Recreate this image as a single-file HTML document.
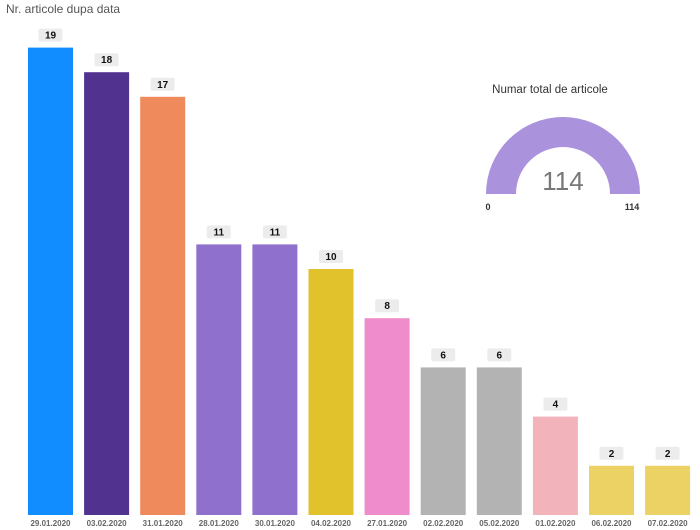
<!DOCTYPE html>
<html><head><meta charset="utf-8"><style>
body{margin:0;background:#fff;}
svg{display:block;font-family:"Liberation Sans",sans-serif;}
</style></head><body>
<svg id="chart" width="700" height="530">
<text x="6" y="13" font-size="12" fill="#555">Nr. articole dupa data</text>
<g id="bars"></g>
<g>
<text x="550" y="93" font-size="11.5" fill="#333" text-anchor="middle">Numar total de articole</text>
<path id="gaugeArc" fill="#aa92dc"></path>
<text id="gaugeValue" x="563" y="190" font-size="26" fill="#777" text-anchor="middle" font-weight="300"></text>
<text x="488" y="210" font-size="9" font-weight="bold" fill="#333" text-anchor="middle">0</text>
<text id="gaugeMax" x="632" y="210" font-size="9" font-weight="bold" fill="#333" text-anchor="middle"></text>
</g>
</svg>
<script>
const categories=["29.01.2020","03.02.2020","31.01.2020","28.01.2020","30.01.2020","04.02.2020","27.01.2020","02.02.2020","05.02.2020","01.02.2020","06.02.2020","07.02.2020"];
const values=[19,18,17,11,11,10,8,6,6,4,2,2];
const colors=["#118dff","#51338f","#ef8a5c","#8f70cc","#8f70cc","#e2c22c","#ef8ccb","#b3b3b3","#b3b3b3","#f3b3bb","#ecd264","#ecd264"];
const gaugeTotal=114;
const gaugeMaxVal=114;

const NS="http://www.w3.org/2000/svg";
const baseY=515, pxPerUnit=24.6, x0=28, pitch=56.1, bw=45;
const xScale=i=>x0+i*pitch;
const yScale=v=>baseY-v*pxPerUnit;
const g=document.getElementById('bars');
function mk(tag,attrs){const e=document.createElementNS(NS,tag);for(const k in attrs)e.setAttribute(k,attrs[k]);return e;}
categories.forEach((c,i)=>{
  const x=xScale(i), y=yScale(values[i]);
  const r=mk('rect',{x:x,y:y,width:bw,height:baseY-y,fill:colors[i]});
  
  
  g.appendChild(r);
  const lb=mk('rect',{x:x+bw/2-12,y:y-19,width:24,height:13,rx:2,fill:'#ececec'});
  
  
  g.appendChild(lb);
  const t=mk('text',{x:x+bw/2,y:y-9,'font-size':10,'font-weight':'bold',fill:'#111','text-anchor':'middle'});
  t.textContent=values[i];
  
  
  g.appendChild(t);
  const d=mk('text',{x:x+bw/2,y:526,'font-size':8,'font-weight':'bold',fill:'#666','text-anchor':'middle'});
  d.textContent=c;
  
  
  g.appendChild(d);
});
// gauge
const cx=563, cy=194, R=77, r=47;
const frac=Math.min(1,gaugeTotal/gaugeMaxVal);
const a=Math.PI*(1-frac);
const ox=cx+R*Math.cos(a), oy=cy-R*Math.sin(a), ix=cx+r*Math.cos(a), iy=cy-r*Math.sin(a);
document.getElementById('gaugeArc').setAttribute('d',`M${cx-R},${cy} A${R},${R} 0 0 1 ${ox},${oy} L${ix},${iy} A${r},${r} 0 0 0 ${cx-r},${cy} Z`);
document.getElementById('gaugeValue').textContent=gaugeTotal;
document.getElementById('gaugeMax').textContent=gaugeMaxVal;
</script>
</body></html>
